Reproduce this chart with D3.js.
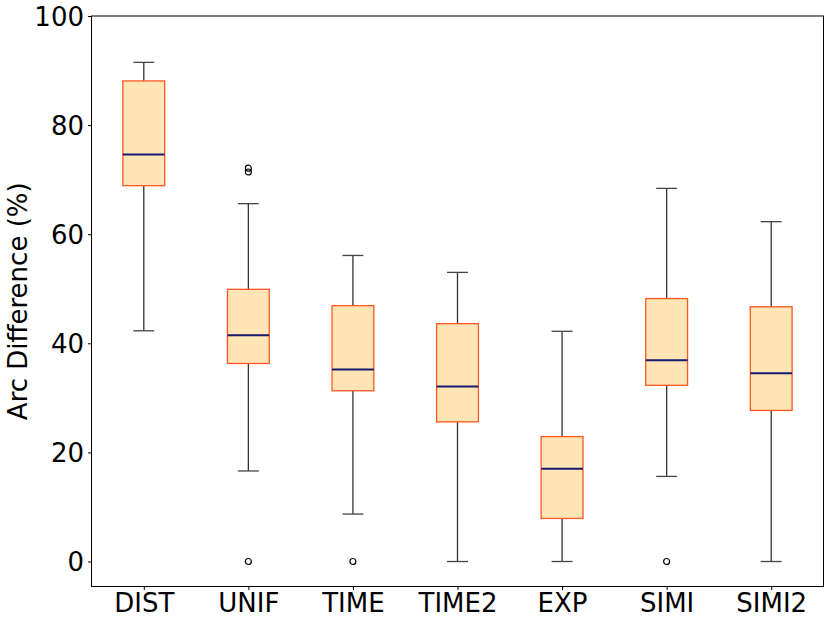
<!DOCTYPE html>
<html lang="en">
<head>
    <meta charset="UTF-8">
    <title>Arc Difference</title>
    <style>
        body { margin: 0; background: #fff; }
        text { font-family: "DejaVu Sans", sans-serif; }
    </style>
</head>
<body>
<script src="https://d3js.org/d3.v7.min.js"></script>
<script>
    // data
    let methods = ["DIST", "UNIF", "TIME", "TIME2", "EXP", "SIMI", "SIMI2"];
    let whiskLow = [42.3, 16.6, 8.7, 0, 0, 15.6, 0];
    let q1 = [68.9, 36.3, 31.3, 25.6, 7.9, 32.3, 27.7];
    let median = [74.6, 41.5, 35.2, 32.1, 17.0, 36.9, 34.5];
    let q3 = [88.1, 49.9, 46.9, 43.6, 22.9, 48.2, 46.7];
    let whiskHigh = [91.5, 65.6, 56.1, 53.0, 42.2, 68.4, 62.3];
    let outliers = [[], [0, 71.4, 72.1], [0], [], [], [0], []];
    let yTicks = [0, 20, 40, 60, 80, 100];

    let w = 830, h = 625;
    let inner = {left: 91.5, right: 6.5, top: 16, bottom: 38.5};
    let W = w - inner.left - inner.right;
    let H = h - inner.top - inner.bottom;
    let fontPx = "26px";

    let svg = d3.select("body")
        .append("svg")
        .attr("width", w)
        .attr("height", h);

    let g = svg.append("g")
        .attr("transform", "translate(" + inner.left + "," + inner.top + ")");

    // positions 1..7 with half a slot padding each side
    let x = d3.scaleLinear()
        .domain([0.5, methods.length + 0.5])
        .range([0, W]);
    let y = d3.scaleLinear()
        .domain([-4.58, 100])
        .range([H, 0]);

    let boxW = x(1.4) - x(1);
    let capW = boxW / 2;

    let rows = methods.map(function (m, i) {
        return {
            name: m, pos: i + 1, lo: whiskLow[i], q1: q1[i], med: median[i],
            q3: q3[i], hi: whiskHigh[i], out: outliers[i]
        };
    });

    let box = g.selectAll("g.box")
        .data(rows)
        .enter()
        .append("g")
        .attr("class", "box")
        .attr("transform", function (d) { return "translate(" + x(d.pos) + ",0)"; });

    // whiskers
    box.append("line")
        .attr("x1", 0).attr("x2", 0)
        .attr("y1", function (d) { return y(d.q3); })
        .attr("y2", function (d) { return y(d.hi); })
        .attr("stroke", "#333").attr("stroke-width", 1.3);
    box.append("line")
        .attr("x1", 0).attr("x2", 0)
        .attr("y1", function (d) { return y(d.q1); })
        .attr("y2", function (d) { return y(d.lo); })
        .attr("stroke", "#333").attr("stroke-width", 1.3);

    // caps
    box.selectAll("line.cap")
        .data(function (d) { return [d.lo, d.hi]; })
        .enter()
        .append("line")
        .attr("class", "cap")
        .attr("x1", -capW / 2).attr("x2", capW / 2)
        .attr("y1", function (v) { return y(v); })
        .attr("y2", function (v) { return y(v); })
        .attr("stroke", "#444").attr("stroke-width", 1.3);

    // boxes
    box.append("rect")
        .attr("x", -boxW / 2)
        .attr("width", boxW)
        .attr("y", function (d) { return y(d.q3); })
        .attr("height", function (d) { return y(d.q1) - y(d.q3); })
        .attr("fill", "#FFE4B5")
        .attr("stroke", "#FF5722")
        .attr("stroke-width", 1.3);

    // medians
    box.append("line")
        .attr("x1", -boxW / 2).attr("x2", boxW / 2)
        .attr("y1", function (d) { return y(d.med); })
        .attr("y2", function (d) { return y(d.med); })
        .attr("stroke", "#191970").attr("stroke-width", 2);

    // outliers
    box.selectAll("circle")
        .data(function (d) { return d.out; })
        .enter()
        .append("circle")
        .attr("cx", 0)
        .attr("cy", function (v) { return y(v); })
        .attr("r", 3)
        .attr("fill", "none")
        .attr("stroke", "#000")
        .attr("stroke-width", 1.2);

    // axes
    let xAxis = d3.axisBottom(x)
        .tickValues(rows.map(function (d) { return d.pos; }))
        .tickFormat(function (d) { return methods[d - 1]; })
        .tickSize(3.5)
        .tickSizeOuter(0)
        .tickPadding(4);
    let yAxis = d3.axisLeft(y)
        .tickValues(yTicks)
        .tickSize(3.5)
        .tickSizeOuter(0)
        .tickPadding(4);

    let gx = g.append("g")
        .attr("transform", "translate(0," + H + ")")
        .call(xAxis);
    let gy = g.append("g").call(yAxis);

    [gx, gy].forEach(function (a) {
        a.select(".domain").remove();
        a.selectAll("text")
            .style("font-size", fontPx)
            .style("font-family", "DejaVu Sans, sans-serif")
            .attr("fill", "#000");
        a.selectAll(".tick line").attr("stroke", "#000").attr("stroke-width", 1);
    });
    gx.selectAll("text").attr("dy", "0.71em");
    gy.selectAll("text").attr("dy", "0.35em");

    // frame
    g.append("rect")
        .attr("x", 0).attr("y", 0)
        .attr("width", W).attr("height", H)
        .attr("fill", "none")
        .attr("stroke", "#000")
        .attr("stroke-width", 1);

    svg.append("text")
        .attr("transform", "translate(27," + (inner.top + H / 2) + ") rotate(-90)")
        .attr("text-anchor", "middle")
        .style("font-size", fontPx)
        .text("Arc Difference (%)");
</script>
</body>
</html>
